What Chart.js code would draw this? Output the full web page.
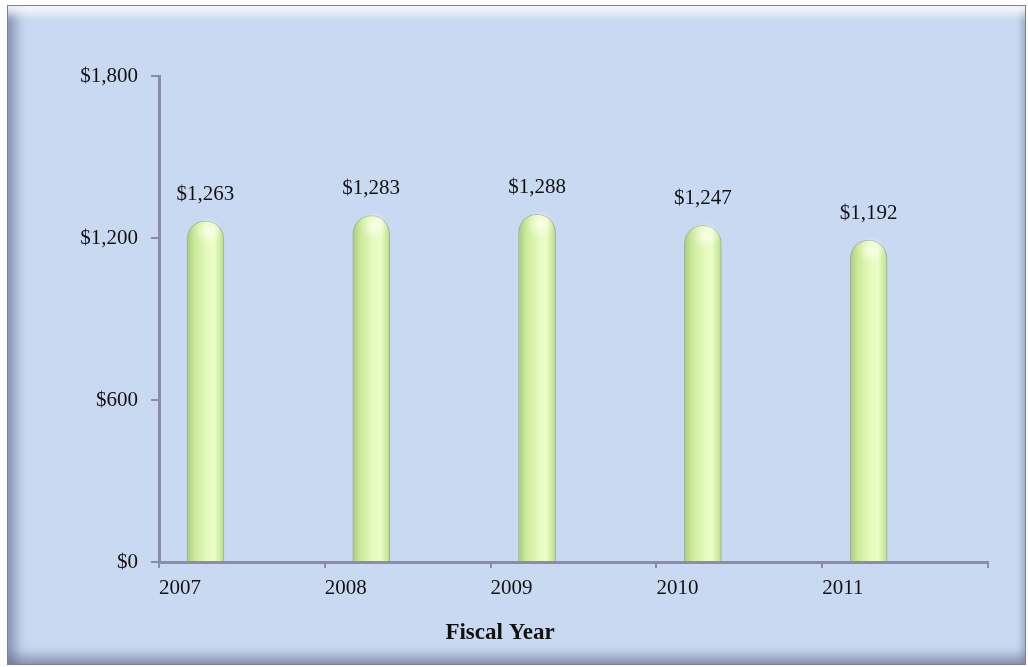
<!DOCTYPE html>
<html>
<head>
<meta charset="utf-8">
<script src="https://cdn.jsdelivr.net/npm/chart.js@4.4.1/dist/chart.umd.min.js"></script>
<style>
    html, body { margin: 0; padding: 0; background: #ffffff; }
    #frame {
        position: absolute;
        left: 7px; top: 5px;
        width: 1017px; height: 658px;
        border: 1px solid #7d829c;
        background: #c9d9f1;
        box-shadow:
            inset 0 16px 10px -8px rgba(255, 255, 255, 0.85),
            inset 14px 0 12px -6px rgba(90, 98, 135, 0.55),
            inset 0 -14px 12px -6px rgba(90, 98, 135, 0.55),
            inset -7px 0 7px -4px rgba(90, 98, 135, 0.35);
    }
    #chart { position: absolute; left: 0; top: 0; }
</style>
</head>
<body>
<div id="frame">
    <canvas id="chart" width="1017" height="658"></canvas>
</div>
<script>
const years = ['2007', '2008', '2009', '2010', '2011'];
const amounts = [1263, 1283, 1288, 1247, 1192];
const yTicks = [0, 600, 1200, 1800];
const axisTitle = 'Fiscal Year';

const AXIS_COLOR = '#8b8da8';
const FONT = "'Liberation Serif', 'Times New Roman', serif";

function money(v) {
    return '$' + v.toLocaleString('en-US');
}

// cylinder look: horizontal gradient across each bar
function barGradient(ctx) {
    const chart = ctx.chart;
    const xs = chart.scales.xb;
    if (!xs || !ctx.parsed) return '#d6f2a6';
    const cx = xs.getPixelForValue(ctx.parsed.x);
    if (!Number.isFinite(cx)) return '#d6f2a6';
    const half = 18.5;
    const g = chart.ctx.createLinearGradient(cx - half, 0, cx + half, 0);
    g.addColorStop(0, '#a9c97c');
    g.addColorStop(0.2, '#cbe99a');
    g.addColorStop(0.55, '#e4fbbd');
    g.addColorStop(0.75, '#eafdc8');
    g.addColorStop(0.95, '#c6e595');
    g.addColorStop(1, '#b0d080');
    return g;
}

const labelPlugin = {
    id: 'valueLabels',
    afterDatasetsDraw(chart) {
        const ctx = chart.ctx;
        const meta = chart.getDatasetMeta(0);
        ctx.save();
        // soft highlight on the rounded cap
        meta.data.forEach(bar => {
            const rg = ctx.createRadialGradient(bar.x + 3, bar.y + 10, 1, bar.x + 3, bar.y + 10, 14);
            rg.addColorStop(0, 'rgba(255,255,240,0.75)');
            rg.addColorStop(1, 'rgba(255,255,240,0)');
            ctx.fillStyle = rg;
            ctx.beginPath();
            ctx.arc(bar.x + 3, bar.y + 10, 14, 0, Math.PI * 2);
            ctx.fill();
        });
        ctx.fillStyle = '#111111';
        ctx.font = '21px ' + FONT;
        ctx.textAlign = 'center';
        ctx.textBaseline = 'middle';
        meta.data.forEach((bar, i) => {
            ctx.fillText(money(amounts[i]), bar.x, bar.y - 27);
        });
        // axis title, sits left of the axis centre as in the original
        ctx.font = 'bold 23px ' + FONT;
        ctx.fillText(axisTitle, 492, 627);
        ctx.restore();
    }
};

new Chart(document.getElementById('chart'), {
    type: 'bar',
    data: {
        datasets: [{
            data: amounts.map((v, i) => ({ x: i, y: v })),
            xAxisID: 'xb',
            yAxisID: 'y',
            backgroundColor: barGradient,
            borderColor: 'rgba(130, 150, 110, 0.6)',
            borderWidth: 1,
            borderSkipped: 'bottom',
            borderRadius: { topLeft: 18.5, topRight: 18.5, bottomLeft: 0, bottomRight: 0 },
            barThickness: 37
        }]
    },
    options: {
        responsive: false,
        animation: false,
        layout: { padding: { top: 70, right: 37, left: 0, bottom: 0 } },
        plugins: {
            legend: { display: false },
            tooltip: { enabled: false }
        },
        scales: {
            x: {
                type: 'category',
                labels: [...years, ''],
                offset: false,
                position: 'bottom',
                afterFit(scale) { scale.height = 102; },
                border: { display: true, color: AXIS_COLOR, width: 3 },
                grid: {
                    offset: false,
                    drawOnChartArea: false,
                    drawTicks: true,
                    tickLength: 6,
                    color: AXIS_COLOR,
                    lineWidth: 2
                },
                ticks: {
                    align: 'start',
                    autoSkip: false,
                    maxRotation: 0,
                    padding: 8,
                    color: '#111111',
                    font: { family: FONT, size: 21 }
                }
            },
            xb: {
                type: 'linear',
                display: false,
                offset: false,
                position: 'bottom',
                min: -0.28,
                max: 4.72
            },
            y: {
                min: yTicks[0],
                max: yTicks[yTicks.length - 1],
                afterFit(scale) { scale.width = 151; },
                afterBuildTicks(scale) { scale.ticks = yTicks.map(v => ({ value: v })); },
                border: { display: true, color: AXIS_COLOR, width: 3 },
                grid: {
                    drawOnChartArea: false,
                    drawTicks: true,
                    tickLength: 8,
                    color: AXIS_COLOR,
                    lineWidth: 2
                },
                ticks: {
                    padding: 13,
                    color: '#111111',
                    font: { family: FONT, size: 21 },
                    callback: v => money(v)
                }
            }
        }
    },
    plugins: [labelPlugin]
});
</script>
</body>
</html>
